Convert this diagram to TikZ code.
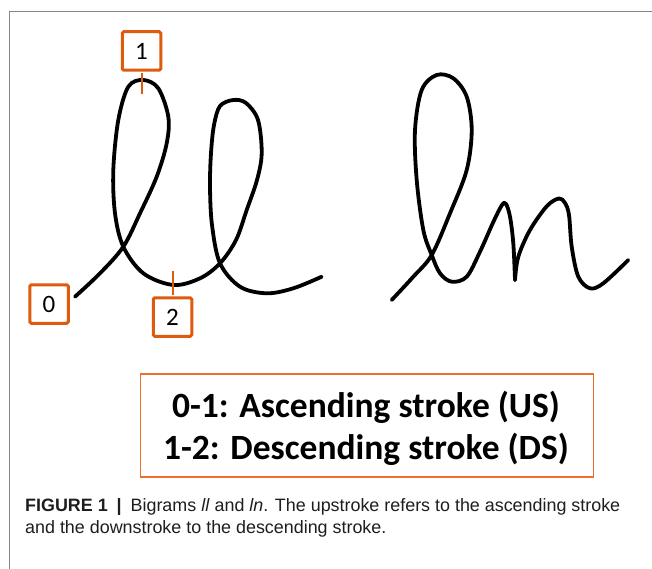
\documentclass[tikz,border=0pt]{standalone}
\usepackage{fontspec}
\setmainfont{Liberation Sans}
\newfontfamily\calibri{Carlito}
\definecolor{lblorange}{RGB}{222,90,12}
\definecolor{legorange}{RGB}{236,112,40}
\definecolor{framegray}{RGB}{135,135,135}
\definecolor{captext}{RGB}{30,30,30}
\tikzset{
  ink/.style={line width=3.8pt, line cap=round, line join=round, black},
  lblbox/.style={draw=lblorange, line width=3pt, fill=white, rounded corners=1.5pt,
    minimum width=38.5pt, minimum height=38.5pt, inner sep=0pt,
    font=\calibri\fontsize{25}{27}\selectfont},
  stem/.style={draw=lblorange, line width=2pt},
  legbox/.style={draw=legorange, line width=1.4pt, minimum width=453pt, minimum height=103pt, inner sep=0pt},
  legtext/.style={align=center, inner sep=0pt, font=\calibri\bfseries\fontsize{35.5}{42}\selectfont},
  captionstyle/.style={anchor=base west, align=left, inner sep=0pt, text=captext,
    font=\fontsize{17.9}{22.5}\selectfont}
}
\begin{document}
\begin{tikzpicture}[x=1pt,y=-1pt]
\useasboundingbox (0,0) rectangle (652,569);
\fill[white] (0,0) rectangle (652,569);
% frame
\draw[framegray, line width=1pt] (9,569) -- (9,11.5) -- (652,11.5);

% bigram ll
\draw[ink] plot[smooth, tension=0.55] coordinates {
  (75,296.7) (100,273.3) (123.3,246.7) (140,213.3) (156.7,176.7) (166.7,143.3)
  (168.3,116.7) (158.3,88.3) (143.3,80) (128.3,86.7) (118.3,120) (113.3,170)
  (115,213.3) (123.3,246.7) (143.3,273.3) (173.3,285) (200,278.3) (220,263.3)
  (236,240) (246.7,210) (257,180) (261.7,153.3) (258,120) (246,103) (233.3,100)
  (220,106) (214,125) (211,153) (210,186.7) (212,225) (220,263.3) (240,286.7)
  (266.7,293.3) (293.3,288.3) (321.7,276.7)};
\coordinate (top1) at (142.5,82);
\coordinate (bot2) at (173,284);

% bigram ln
\draw[ink] plot[smooth, tension=0.55] coordinates {
  (391.7,300) (413.3,276.7) (431.7,255) (450,213.3) (466.7,170) (471.7,130)
  (466.7,96.7) (453.3,78.3) (436.7,75) (421.7,90) (415,130) (416.7,180)
  (423.3,230) (431.7,255) (440,273.3) (451.7,281.7) (466.7,276.7) (480,251.7)
  (493.3,222) (502,205) (506,204) (510,216.7) (513.3,243.3) (515,280)};
\draw[ink] plot[smooth, tension=0.55] coordinates {
  (515,280) (518.3,256.7) (530,230) (547,206) (559,198.5) (565,203) (569,215)
  (571.7,246.7) (578.3,276.7) (590,288.3) (603.3,283.3) (628.3,260)};

% labels
\node[lblbox] (b1) at (141.5,51) {1};
\node[lblbox] (b0) at (49,304) {0};
\node[lblbox] (b2) at (172.5,317) {2};
\coordinate (s1) at (141.5,94);
\coordinate (s2) at (172.5,271);
\draw[stem] (b1.south) ++(0,1.5) -- (s1);
\draw[stem] (b2.north) ++(0,-1.5) -- (s2);

% legend
\node[legbox] (legend) at (367,425.5) {};
\node[legtext] (legendtext) at (366,428) {0-1: Ascending stroke (US)\\1-2: Descending stroke (DS)};

% caption
\node[captionstyle] (caption) at (25,533.5) {\textbf{FIGURE 1}\enspace\textbf{|}\enspace Bigrams \textit{ll} and \textit{ln}. The upstroke refers to the ascending stroke\\and the downstroke to the descending stroke.};
\end{tikzpicture}
\end{document}
